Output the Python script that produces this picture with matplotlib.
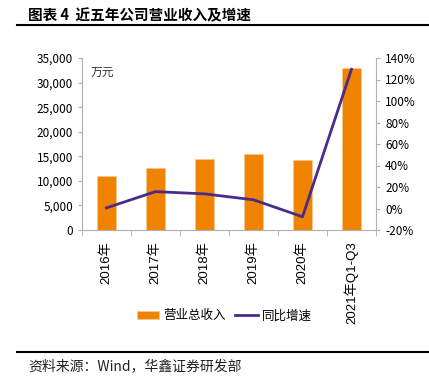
import numpy as np
import matplotlib.pyplot as plt
from matplotlib.ticker import FuncFormatter, MultipleLocator

plt.rcParams['font.family'] = ['Noto Sans CJK SC', 'DejaVu Sans']

# 数据
years = ['2016年', '2017年', '2018年', '2019年', '2020年', '2021年Q1-Q3']
revenue = [11000, 12700, 14350, 15450, 14200, 33000]   # 万元
growth = [0.6, 15.7, 13.6, 8.1, -7.7, 129.5]              # %

bar_color = '#F08300'
line_color = '#4B2A8A'

fig = plt.figure(figsize=(4.29, 3.88), dpi=100)

# 标题和分隔线
fig.text(28 / 429, 1 - 15 / 388, '图表 4  近五年公司营业收入及增速', fontsize=10.5,
         fontweight='bold', va='center', ha='left')
fig.add_artist(plt.Line2D([17 / 429, 1.0], [1 - 25 / 388] * 2, color='black', lw=1.5))
fig.add_artist(plt.Line2D([17 / 429, 1.0], [1 - 352 / 388] * 2, color='black', lw=1.5))
fig.text(28 / 429, 1 - 366 / 388, '资料来源：Wind，华鑫证券研发部', fontsize=10,
         va='center', ha='left', color='#222222')

ax = fig.add_axes([82 / 429, 1 - 230 / 388, (376 - 82) / 429, (230 - 58) / 388])
x = np.arange(len(years))
bars = ax.bar(x, revenue, width=0.4, color=bar_color, edgecolor='#F8C890', linewidth=0.6,
              label='营业总收入', zorder=2)
ax.set_xlim(-0.5, len(years) - 0.5)
ax.set_ylim(0, 35000)
ax.yaxis.set_major_locator(MultipleLocator(5000))
ax.yaxis.set_major_formatter(FuncFormatter(lambda v, p: f'{int(v):,}'))
ax.set_xticks(x)
ax.set_xticklabels(years, rotation=90, fontsize=9.5,
                   family=['Liberation Sans', 'Noto Sans CJK SC'])
ax.set_xticks(np.arange(-0.5, len(years)), minor=True)
ax.tick_params(axis='x', which='major', length=0, pad=8)
ax.tick_params(axis='x', which='minor', length=4, color='#B0B0B0')
ax.tick_params(axis='y', labelsize=8.5, length=3, color='#B0B0B0')
ax.text(0.03, 0.955, '万元', transform=ax.transAxes, fontsize=8.5, va='top', ha='left',
        color='#333333')

ax2 = ax.twinx()
line, = ax2.plot(x, growth, color=line_color, lw=2, label='同比增速', zorder=3)
ax2.set_ylim(-20, 140)
ax2.yaxis.set_major_locator(MultipleLocator(20))
ax2.yaxis.set_major_formatter(FuncFormatter(lambda v, p: f'{int(v)}%'))
ax2.tick_params(axis='y', labelsize=8.5, length=3, color='#B0B0B0')

for a in (ax, ax2):
    a.spines['top'].set_visible(False)
    for s in ('left', 'right', 'bottom'):
        a.spines[s].set_color('#B0B0B0')
ax2.spines['left'].set_visible(False)
ax2.spines['bottom'].set_visible(False)
ax.spines['right'].set_visible(False)

fig.legend([bars, line], ['营业总收入', '同比增速'], loc='center',
           bbox_to_anchor=(224 / 429, 1 - 316 / 388), ncol=2, frameon=False,
           fontsize=9, handlelength=1.8, handleheight=0.6, columnspacing=0.8,
           handletextpad=0.3)

fig.savefig('out.png', dpi=100)
